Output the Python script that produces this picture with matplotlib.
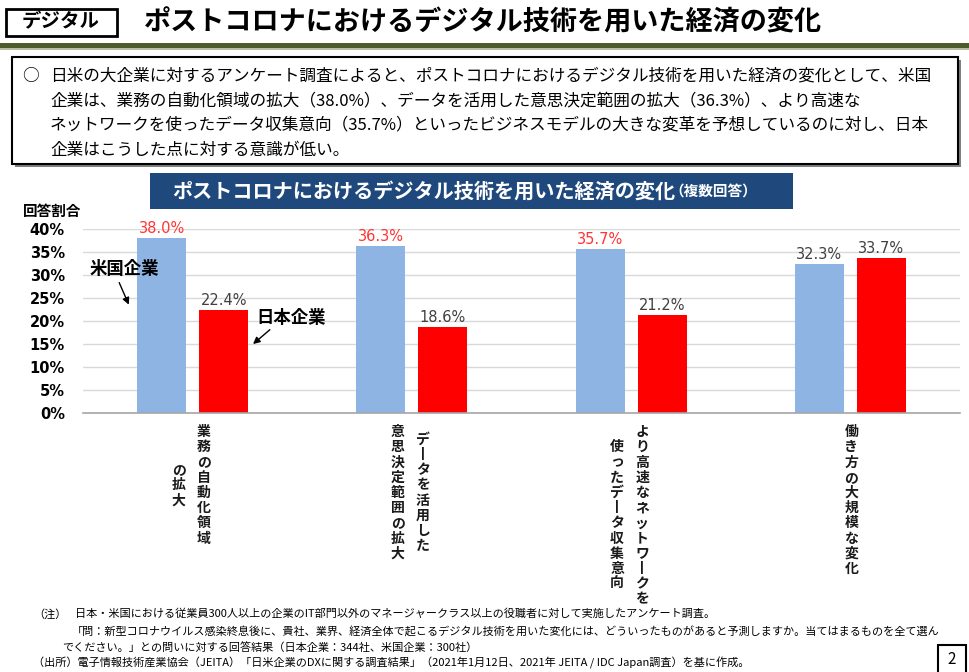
import matplotlib
matplotlib.use("Agg")
import matplotlib.pyplot as plt
from matplotlib.patches import Rectangle
import numpy as np

plt.rcParams['font.family'] = ['Noto Sans CJK JP', 'DejaVu Sans']

# データ（回答割合, %）
categories = [
    ["業務の自動化領域", "の拡大"],
    ["データを活用した", "意思決定範囲の拡大"],
    ["より高速なネットワークを", "使ったデータ収集意向"],
    ["働き方の大規模な変化"],
]
us_values = [38.0, 36.3, 35.7, 32.3]
jp_values = [22.4, 18.6, 21.2, 33.7]
us_label_colors = ['#ff3333', '#ff3333', '#ff3333', '#404040']
yticks = [0, 5, 10, 15, 20, 25, 30, 35, 40]

W, H = 970, 672
fig = plt.figure(figsize=(W / 100, H / 100), dpi=100)


def fx(x):
    return x / W


def fy(y):
    return 1 - y / H


def frect(x0, y0, x1, y1, **kw):
    fig.patches.append(Rectangle((fx(x0), fy(y1)), fx(x1) - fx(x0), fy(y0) - fy(y1),
                                 transform=fig.transFigure, **kw))


# --- ヘッダー ---
frect(6, 9, 117, 36, facecolor='white', edgecolor='black', linewidth=2)
fig.text(fx(61), fy(22), "デジタル", fontsize=14, fontweight='bold', ha='center', va='center')
fig.text(fx(483), fy(22), "ポストコロナにおけるデジタル技術を用いた経済の変化",
         fontsize=19.5, fontweight='bold', ha='center', va='center')
frect(0, 43, 970, 48, facecolor='#4e5b2b', edgecolor='none')
frect(0, 48, 970, 50, facecolor='#b8bfa0', edgecolor='none')

# --- 説明ボックス ---
frect(15, 60, 961, 167, facecolor='#7f7f7f', edgecolor='none')
frect(12, 57, 958, 164, facecolor='white', edgecolor='black', linewidth=1.5)
summary = [
    "日米の大企業に対するアンケート調査によると、ポストコロナにおけるデジタル技術を用いた経済の変化として、米国",
    "企業は、業務の自動化領域の拡大（38.0%）、データを活用した意思決定範囲の拡大（36.3%）、より高速な",
    "ネットワークを使ったデータ収集意向（35.7%）といったビジネスモデルの大きな変革を予想しているのに対し、日本",
    "企業はこうした点に対する意識が低い。",
]
fig.text(fx(30), fy(76), "○", fontsize=12, ha='center', va='center')
for i, line in enumerate(summary):
    fig.text(fx(50), fy(76 + i * 24.7), line, fontsize=12, ha='left', va='center')

# --- グラフタイトル帯 ---
frect(150, 173, 793, 209, facecolor='#1f497d', edgecolor='none')
fig.text(fx(172), fy(191), "ポストコロナにおけるデジタル技術を用いた経済の変化",
         fontsize=14.5, fontweight='bold', color='white', ha='left', va='center')
fig.text(fx(669), fy(192), "（複数回答）", fontsize=10.5, fontweight='bold',
         color='white', ha='left', va='center')

# --- 棒グラフ ---
ax = fig.add_axes([fx(83), fy(413), fx(960) - fx(83), fy(229) - fy(413)])
x = np.arange(len(us_values))
bw = 0.224
off = 0.1416
bars_us = ax.bar(x - off, us_values, bw, color='#8db4e2', zorder=3)
bars_jp = ax.bar(x + off, jp_values, bw, color='#ff0000', zorder=3)

ax.set_xlim(-0.5, len(us_values) - 0.5)
ax.set_ylim(0, 40)
ax.set_yticks(yticks)
ax.set_yticklabels([f"{t}%" for t in yticks], fontsize=10.5, fontweight='bold',
                   family='DejaVu Sans')
ax.tick_params(axis='y', length=0, pad=13)
ax.set_xticks([])
ax.grid(axis='y', color='#d9d9d9', linewidth=1, zorder=0)
for s in ['left', 'right', 'top']:
    ax.spines[s].set_visible(False)
ax.spines['bottom'].set_color('#a6a6a6')
ax.spines['bottom'].set_linewidth(1.2)
ax.spines['bottom'].set_zorder(4)

for b, v, c in zip(bars_us, us_values, us_label_colors):
    ax.annotate(f"{v:.1f}%", (b.get_x() + b.get_width() / 2, v), xytext=(0, 2),
                textcoords='offset pixels', ha='center', va='bottom', fontsize=10.5,
                color=c, family='DejaVu Sans', annotation_clip=False)
for b, v in zip(bars_jp, jp_values):
    ax.annotate(f"{v:.1f}%", (b.get_x() + b.get_width() / 2, v), xytext=(0, 2),
                textcoords='offset pixels', ha='center', va='bottom', fontsize=10.5,
                color='#404040', family='DejaVu Sans', annotation_clip=False)

fig.text(fx(52), fy(211), "回答割合", fontsize=10.5, fontweight='bold', ha='center', va='center')

# 凡例代わりの注記
ax.text(-0.313, 31.4, "米国企業", fontsize=12.5, fontweight='bold', ha='center', va='center')
ax.annotate("", xy=(-0.286, 23.0), xytext=(-0.340, 28.9),
            arrowprops=dict(arrowstyle='-|>', color='black', lw=1, mutation_scale=10))
ax.text(0.449, 20.6, "日本企業", fontsize=12.5, fontweight='bold', ha='center', va='center')
ax.annotate("", xy=(0.266, 14.6), xytext=(0.362, 18.5),
            arrowprops=dict(arrowstyle='-|>', color='black', lw=1, mutation_scale=10))

# 縦書きのカテゴリラベル（1文字ずつ配置）
char_h = 15.2
for i, cols in enumerate(categories):
    nmax = max(len(c) for c in cols)
    yc = -(10 + nmax * char_h / 2)
    offsets = [1] if len(cols) == 1 else [11, -14]
    for col, dx in zip(cols, offsets):
        chars = col.replace("ー", "丨")
        n = len(chars)
        for j, ch in enumerate(chars):
            dy = yc + (n / 2 - j - 0.5) * char_h
            ax.annotate(ch, (i, 0), xycoords=('data', 'axes fraction'), xytext=(dx, dy),
                        textcoords='offset pixels', ha='center', va='center_baseline',
                        fontsize=10, fontweight='bold', color='#1a1a1a',
                        annotation_clip=False)

# --- 脚注 ---
fn = 8.0
fig.text(fx(33), fy(614), "（注）", fontsize=fn, ha='left', va='center')
fig.text(fx(75), fy(614), "日本・米国における従業員300人以上の企業のIT部門以外のマネージャークラス以上の役職者に対して実施したアンケート調査。",
         fontsize=fn, ha='left', va='center')
fig.text(fx(72), fy(632), "「問：新型コロナウイルス感染終息後に、貴社、業界、経済全体で起こるデジタル技術を用いた変化には、どういったものがあると予測しますか。当てはまるものを全て選ん",
         fontsize=fn, ha='left', va='center')
fig.text(fx(62), fy(647), "でください。」との問いに対する回答結果（日本企業：344社、米国企業：300社）",
         fontsize=fn, ha='left', va='center')
fig.text(fx(33), fy(663), "（出所）電子情報技術産業協会（JEITA）「日米企業のDXに関する調査結果」（2021年1月12日、2021年 JEITA / IDC Japan調査）を基に作成。",
         fontsize=fn, ha='left', va='center')

frect(938, 645, 966, 675, facecolor='white', edgecolor='black', linewidth=1.5)
fig.text(fx(952), fy(660), "2", fontsize=11, ha='center', va='center')

fig.savefig("out.png", dpi=100)
